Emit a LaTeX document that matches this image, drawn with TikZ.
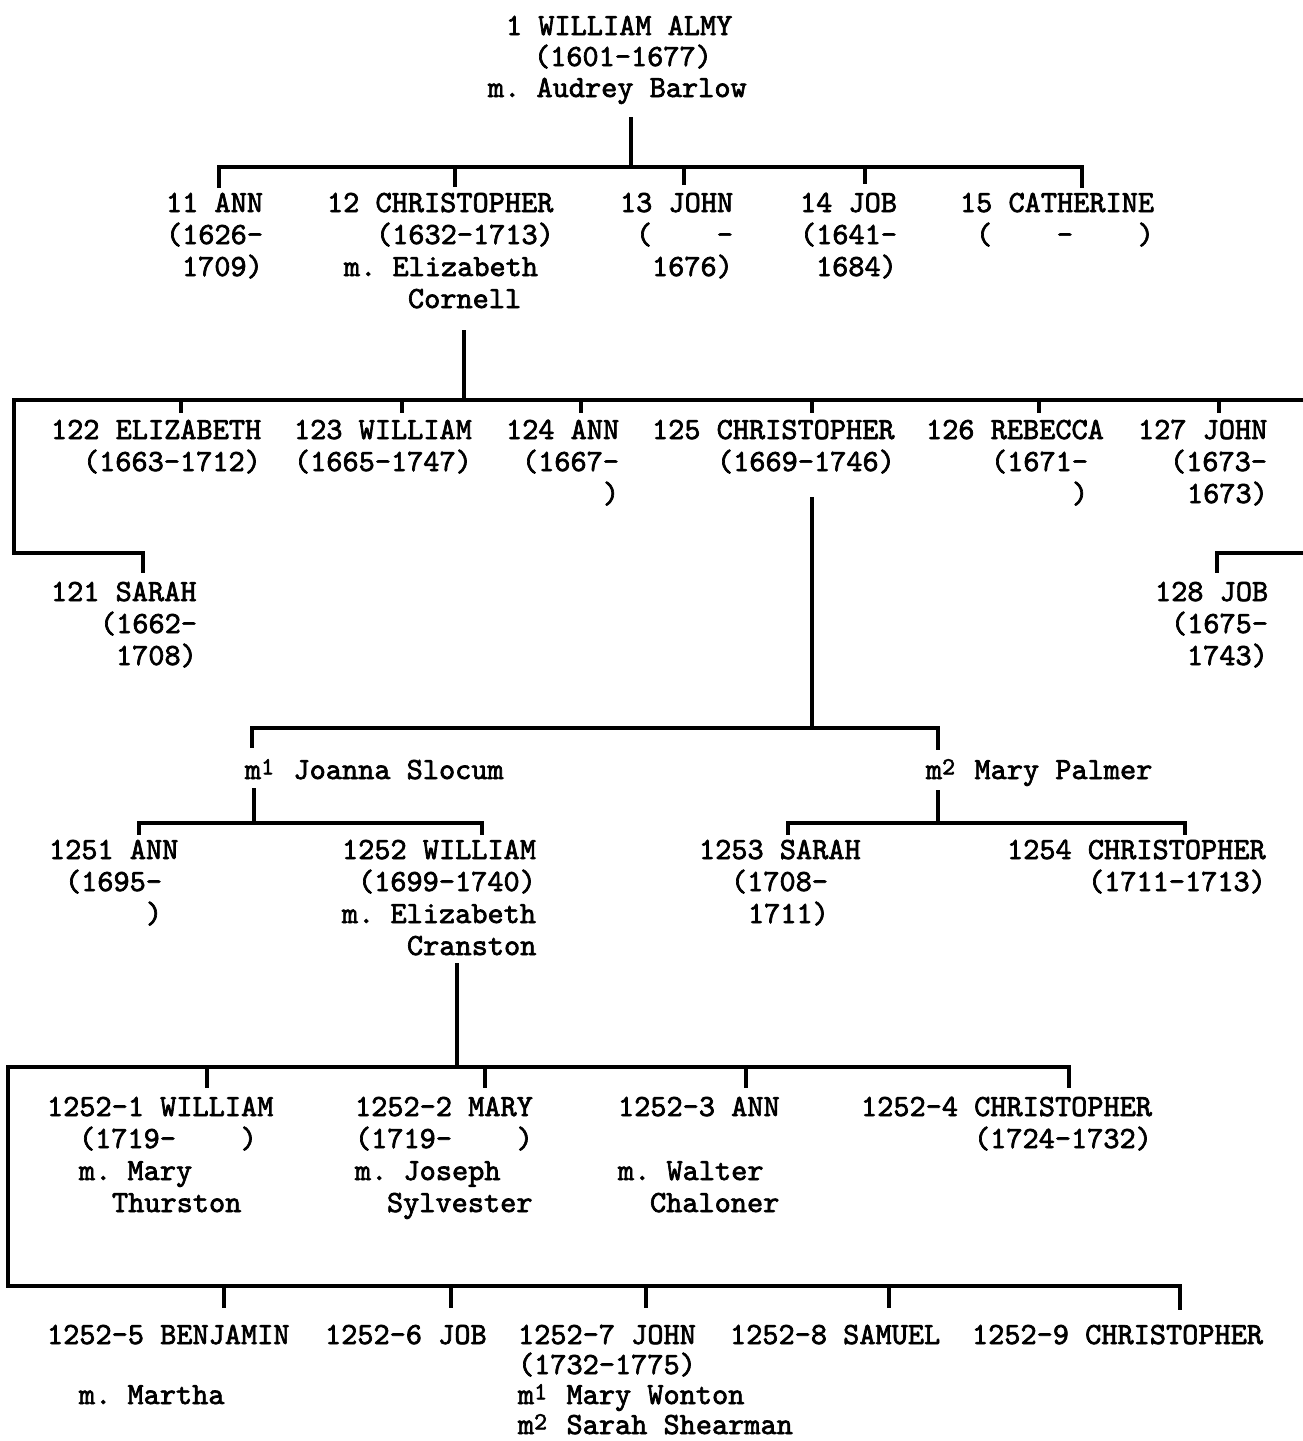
\documentclass[tikz,border=0pt]{standalone}
\usepackage{fontspec}
\newfontfamily\tw{lmmono10-regular.otf}[FakeBold=2.2]
\newcommand\twf{\tw\fontsize{15.4pt}{16pt}\selectfont\frenchspacing}
\newcommand\up[1]{\makebox[0.525em][l]{\raisebox{0.15em}{\scalebox{0.8}{#1}}}}
\begin{document}
\begin{tikzpicture}[x=0.5pt,y=-0.5pt,
  tw/.style={anchor=base west, inner sep=0pt, outer sep=0pt, font=\twf},
  bar/.style={line width=2.1pt, line cap=rect},
  stem/.style={line width=1.6pt}]
\useasboundingbox[fill=white] (0,0) rectangle (1302,1441);

% ---------- generation 1 ----------
\node[tw] (a1) at (506,35) {1 WILLIAM ALMY};
\node[tw] (a2) at (534,66) {(1601-1677)};
\node[tw] (a3) at (488,97) {m. Audrey Barlow};

% ---------- generation 2 ----------
\node[tw] (p11a) at (166,212) {11 ANN};
\node[tw] (p11b) at (166,244) {(1626-};
\node[tw] (p11c) at (182,276) {1709)};
\node[tw] (p12a) at (327,212) {12 CHRISTOPHER};
\node[tw] (p12b) at (376,244) {(1632-1713)};
\node[tw] (p12c) at (344,276) {m. Elizabeth};
\node[tw] (p12d) at (408,308) {Cornell};
\node[tw] (p13a) at (620,212) {13 JOHN};
\node[tw] (p13b) at (636,244) {(~~~~-};
\node[tw] (p13c) at (652,276) {1676)};
\node[tw] (p14a) at (800,212) {14 JOB};
\node[tw] (p14b) at (800,244) {(1641-};
\node[tw] (p14c) at (816,276) {1684)};
\node[tw] (p15a) at (960,212) {15 CATHERINE};
\node[tw] (p15b) at (976,244) {(~~~~-~~~~)};

% ---------- generation 3 ----------
\node[tw] (p122a) at (51,439) {122 ELIZABETH};
\node[tw] (p122b) at (83,471) {(1663-1712)};
\node[tw] (p123a) at (294,439) {123 WILLIAM};
\node[tw] (p123b) at (294,471) {(1665-1747)};
\node[tw] (p124a) at (506,439) {124 ANN};
\node[tw] (p124b) at (522,471) {(1667-};
\node[tw] (p124c) at (603,503) {)};
\node[tw] (p125a) at (652,439) {125 CHRISTOPHER};
\node[tw] (p125b) at (717,471) {(1669-1746)};
\node[tw] (p126a) at (926,439) {126 REBECCA};
\node[tw] (p126b) at (991,471) {(1671-};
\node[tw] (p126c) at (1072,503) {)};
\node[tw] (p127a) at (1138,439) {127 JOHN};
\node[tw] (p127b) at (1170,471) {(1673-};
\node[tw] (p127c) at (1187,503) {1673)};
\node[tw] (p121a) at (51,601) {121 SARAH};
\node[tw] (p121b) at (100,633) {(1662-};
\node[tw] (p121c) at (116,665) {1708)};
\node[tw] (p128a) at (1155,601) {128 JOB};
\node[tw] (p128b) at (1171,633) {(1675-};
\node[tw] (p128c) at (1187,665) {1743)};

% ---------- marriages of 125 ----------
\node[tw] (m1) at (245,779) {m\up{1} Joanna Slocum};
\node[tw] (m2) at (926,779) {m\up{2} Mary Palmer};

% ---------- generation 4 ----------
\node[tw] (p1251a) at (49,859) {1251 ANN};
\node[tw] (p1251b) at (65,891) {(1695-};
\node[tw] (p1251c) at (146,923) {)};
\node[tw] (p1252a) at (342,859) {1252 WILLIAM};
\node[tw] (p1252b) at (358,891) {(1699-1740)};
\node[tw] (p1252c) at (342,923) {m. Elizabeth};
\node[tw] (p1252d) at (407,955) {Cranston};
\node[tw] (p1253a) at (699,859) {1253 SARAH};
\node[tw] (p1253b) at (731,891) {(1708-};
\node[tw] (p1253c) at (748,923) {1711)};
\node[tw] (p1254a) at (1007,859) {1254 CHRISTOPHER};
\node[tw] (p1254b) at (1088,891) {(1711-1713)};

% ---------- generation 5 ----------
\node[tw] (q1a) at (47,1116) {1252-1 WILLIAM};
\node[tw] (q1b) at (79,1148) {(1719-~~~~)};
\node[tw] (q1c) at (79,1180) {m. Mary};
\node[tw] (q1d) at (112,1212) {Thurston};
\node[tw] (q2a) at (355,1116) {1252-2 MARY};
\node[tw] (q2b) at (355,1148) {(1719-~~~~)};
\node[tw] (q2c) at (355,1180) {m. Joseph};
\node[tw] (q2d) at (387,1212) {Sylvester};
\node[tw] (q3a) at (618,1116) {1252-3 ANN};
\node[tw] (q3c) at (618,1180) {m. Walter};
\node[tw] (q3d) at (650,1212) {Chaloner};
\node[tw] (q4a) at (861,1116) {1252-4 CHRISTOPHER};
\node[tw] (q4b) at (974,1148) {(1724-1732)};
\node[tw] (q5a) at (47,1344) {1252-5 BENJAMIN};
\node[tw] (q5c) at (79,1404) {m. Martha};
\node[tw] (q6a) at (325,1344) {1252-6 JOB};
\node[tw] (q7a) at (518,1344) {1252-7 JOHN};
\node[tw] (q7b) at (518,1374) {(1732-1775)};
\node[tw] (q7c) at (518,1404) {m\up{1} Mary Wonton};
\node[tw] (q7d) at (518,1434) {m\up{2} Sarah Shearman};
\node[tw] (q8a) at (730,1344) {1252-8 SAMUEL};
\node[tw] (q9a) at (972,1344) {1252-9 CHRISTOPHER};

% ---------- connectors: 1 -> 11..15 ----------
\coordinate (s1) at (631,117);
\coordinate (b1L) at (219,167);
\coordinate (b1R) at (1082,167);
\coordinate (k11) at (219,188);
\coordinate (k12) at (455,187);
\coordinate (k13) at (684,185);
\coordinate (k14) at (865,184);
\coordinate (k15) at (1082,188);
\draw[stem] (s1) -- (s1 |- b1L);
\draw[bar] (b1L) -- (b1R);
\foreach \k in {k11,k12,k13,k14,k15} \draw[stem] (\k |- b1L) -- (\k);

% ---------- connectors: 12 -> 121..128 ----------
\coordinate (s12) at (464,330);
\coordinate (b2L) at (14,400);
\coordinate (b2R) at (1302,400);
\coordinate (c121) at (14,553);
\coordinate (k121) at (143,573);
\coordinate (c128) at (1302,553);
\coordinate (k128) at (1217,573);
\coordinate (k122) at (181,413);
\coordinate (k123) at (402,413);
\coordinate (k124) at (581,413);
\coordinate (k125) at (812,413);
\coordinate (k126) at (1039,413);
\coordinate (k127) at (1219,413);
\draw[stem] (s12) -- (s12 |- b2L);
\draw[bar] (b2R) -- (b2L) -- (c121) -- (c121 -| k121);
\draw[stem] (c121 -| k121) -- (k121);
\draw[bar] (c128) -- (c128 -| k128);
\draw[stem] (c128 -| k128) -- (k128);
\foreach \k in {k122,k123,k124,k125,k126,k127} \draw[stem] (\k |- b2L) -- (\k);

% ---------- connectors: 125 -> marriages ----------
\coordinate (s125) at (812,497);
\coordinate (b3L) at (252,728);
\coordinate (b3R) at (938,728);
\coordinate (km1) at (252,748);
\coordinate (km2) at (938,750);
\draw[stem] (s125) -- (s125 |- b3L);
\draw[bar] (b3L) -- (b3R);
\draw[stem] (km1 |- b3L) -- (km1);
\draw[stem] (km2 |- b3L) -- (km2);

% ---------- m1 -> 1251, 1252 ----------
\coordinate (sm1) at (254,788);
\coordinate (b4L) at (139,823);
\coordinate (b4R) at (482,823);
\coordinate (k1251) at (139,835);
\coordinate (k1252) at (482,835);
\draw[stem] (sm1) -- (sm1 |- b4L);
\draw[bar] (b4L) -- (b4R);
\draw[stem] (k1251 |- b4L) -- (k1251);
\draw[stem] (k1252 |- b4L) -- (k1252);

% ---------- m2 -> 1253, 1254 ----------
\coordinate (sm2) at (938,790);
\coordinate (b5L) at (788,823);
\coordinate (b5R) at (1185,823);
\coordinate (k1253) at (788,835);
\coordinate (k1254) at (1185,835);
\draw[stem] (sm2) -- (sm2 |- b5L);
\draw[bar] (b5L) -- (b5R);
\draw[stem] (k1253 |- b5L) -- (k1253);
\draw[stem] (k1254 |- b5L) -- (k1254);

% ---------- 1252 -> 1252-1 .. 1252-9 ----------
\coordinate (s1252) at (457,963);
\coordinate (b6L) at (8,1067);
\coordinate (b6R) at (1069,1067);
\coordinate (b7L) at (8,1286);
\coordinate (b7R) at (1180,1286);
\coordinate (q1k) at (207,1088);
\coordinate (q2k) at (485,1088);
\coordinate (q3k) at (746,1088);
\coordinate (q4k) at (1069,1088);
\coordinate (q5k) at (224,1308);
\coordinate (q6k) at (451,1308);
\coordinate (q7k) at (646,1308);
\coordinate (q8k) at (889,1308);
\coordinate (q9k) at (1180,1310);
\draw[stem] (s1252) -- (s1252 |- b6L);
\draw[bar] (b6R) -- (b6L) -- (b7L) -- (b7R);
\foreach \k in {q1k,q2k,q3k,q4k} \draw[stem] (\k |- b6L) -- (\k);
\foreach \k in {q5k,q6k,q7k,q8k,q9k} \draw[stem] (\k |- b7L) -- (\k);
\end{tikzpicture}
\end{document}
